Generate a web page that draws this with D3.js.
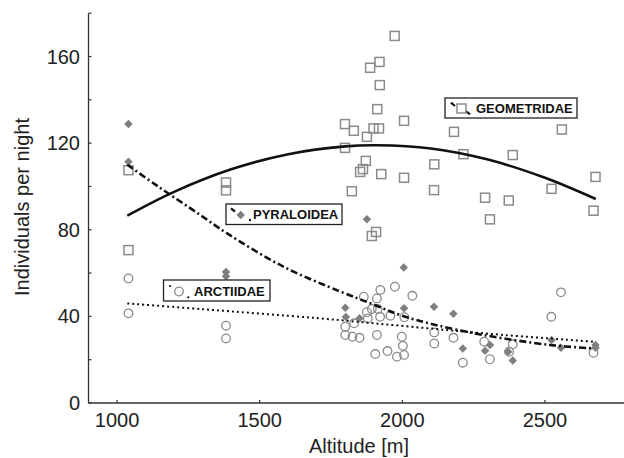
<!DOCTYPE html>
<html>
<head>
<meta charset="utf-8">
<script src="https://cdn.jsdelivr.net/npm/d3@7"></script>
<style>
  body { margin: 0; background: #fff; }
  svg text { font-family: "Liberation Sans", Arial, Helvetica, sans-serif; }
</style>
</head>
<body>
<div id="chart-area"></div>
<script>
// points: altitude [m] and individuals per night
let geoAlt = [1040,1040,1382,1382,1973,1920,1887,1921,1912,1799,2006,1830,1899,1918,1876,1799,1872,1862,1852,1926,2006,1823,2112,2111,1908,1893,2181,2559,2214,2387,2677,2523,2290,2373,2670,2307];
let geoVal = [107.5,70.6,101.8,98.2,169.5,157.5,154.8,146.8,135.7,128.8,130.3,125.7,126.8,126.8,122.9,117.8,111.8,108,106.7,105.7,104,97.8,110.2,98.3,79,77.1,125.2,126.3,114.9,114.5,104.4,98.9,94.8,93.5,88.8,84.8];

let pyrAlt = [1040,1040,1382,1382,1876,2005,1800,1802,1850,2006,2111,2179,2212,2290,2307,2371,2387,2523,2556,2677,2677];
let pyrVal = [128.8,111.4,60.5,58.5,84.8,62.6,44,39.7,39.1,43.7,44.5,41.2,25.2,24.1,26.8,23.7,19.6,29.1,25.5,26.8,25.5];

let arcAlt = [1040,1040,1382,1382,1923,1974,1865,1911,2035,1893,1914,1876,1922,1958,2007,1831,1879,1800,1800,1825,1850,1911,1998,2002,2112,2112,1905,1948,1981,2006,2179,2212,2287,2307,2387,2374,2556,2522,2670];
let arcVal = [57.5,41.4,35.7,29.8,52.2,53.7,49.1,48.3,49.5,43.4,43.4,41.9,39.8,40.3,39.6,36.8,39.1,35.2,31.4,30.6,30.1,31.4,30.6,26.4,32.6,27.5,22.6,24,21.4,22.2,30.1,18.6,28.3,20.2,27.1,23.7,51.1,39.8,23.2];

// fitted curves
let geoFitAlt = [1036,1200,1400,1600,1800,1912,2100,2300,2500,2678];
let geoFitVal = [86.5,97.5,107.9,114.9,118.5,119,117.5,112.4,104,94.2];
let pyrFitAlt = [1036,1146,1292,1386,1584,1782,1899,1992,2109,2284,2517,2669];
let pyrFitVal = [110,99.8,86.8,78.3,62.9,51.5,45.5,40.6,36.3,31.4,26.8,25.2];
let arcFitAlt = [1036,1300,1700,2000,2300,2669];
let arcFitVal = [46,43.3,39.2,35.6,32,28.3];

let xTicks = [1000,1500,2000,2500];
let yTicks = [0,20,40,60,80,100,120,140,160,180];
let yLabels = [0,40,80,120,160];

let svg = d3.select("#chart-area").append("svg")
	.attr("width", 624)
	.attr("height", 458);

let x = d3.scaleLinear()
	.domain([900, 2800])
	.range([88.5, 630.6]);

let y = d3.scaleLinear()
	.domain([0, 180])
	.range([403, 13.2]);

let grey = "#8a8a8a";

// axes
svg.append("line")
	.attr("x1", x(900)).attr("x2", 624)
	.attr("y1", y(0)).attr("y2", y(0))
	.attr("stroke", "#333").attr("stroke-width", 1.3);
svg.append("line")
	.attr("x1", x(900)).attr("x2", x(900))
	.attr("y1", y(0)).attr("y2", y(180))
	.attr("stroke", "#333").attr("stroke-width", 1.3);

svg.selectAll(".xtick").data(xTicks).enter()
	.append("line")
	.attr("x1", (d) => x(d)).attr("x2", (d) => x(d))
	.attr("y1", y(0)).attr("y2", y(0) - 3)
	.attr("stroke", "#333").attr("stroke-width", 1.2);
svg.selectAll(".xlab").data(xTicks).enter()
	.append("text")
	.attr("x", (d) => x(d))
	.attr("y", 427)
	.attr("text-anchor", "middle")
	.attr("font-size", 20)
	.attr("fill", "#222")
	.text((d) => d);

svg.selectAll(".ytick").data(yTicks).enter()
	.append("line")
	.attr("x1", x(900)).attr("x2", x(900) + 3)
	.attr("y1", (d) => y(d)).attr("y2", (d) => y(d))
	.attr("stroke", "#333").attr("stroke-width", 1.2);
svg.selectAll(".ylab").data(yLabels).enter()
	.append("text")
	.attr("x", 80)
	.attr("y", (d) => y(d) + 7)
	.attr("text-anchor", "end")
	.attr("font-size", 20)
	.attr("fill", "#222")
	.text((d) => d);

svg.append("text")
	.attr("x", 359).attr("y", 453)
	.attr("text-anchor", "middle")
	.attr("font-size", 20)
	.attr("fill", "#222")
	.text("Altitude [m]");
svg.append("text")
	.attr("transform", "translate(28.5,207) rotate(-90)")
	.attr("text-anchor", "middle")
	.attr("font-size", 20)
	.attr("fill", "#222")
	.text("Individuals per night");

// markers
let geo = geoAlt.map((a, i) => ({alt: a, val: geoVal[i]}));
let pyr = pyrAlt.map((a, i) => ({alt: a, val: pyrVal[i]}));
let arc = arcAlt.map((a, i) => ({alt: a, val: arcVal[i]}));

svg.selectAll(".circ").data(arc).enter()
	.append("circle")
	.attr("cx", (d) => x(d.alt))
	.attr("cy", (d) => y(d.val))
	.attr("r", 4.3)
	.attr("fill", "none")
	.attr("stroke", grey)
	.attr("stroke-width", 1.3);

svg.selectAll(".sq").data(geo).enter()
	.append("rect")
	.attr("x", (d) => x(d.alt) - 4.5)
	.attr("y", (d) => y(d.val) - 4.5)
	.attr("width", 9).attr("height", 9)
	.attr("fill", "none")
	.attr("stroke", grey)
	.attr("stroke-width", 1.5);

let diamond = d3.symbol().type(d3.symbolDiamond2).size(46);
svg.selectAll(".dia").data(pyr).enter()
	.append("path")
	.attr("d", diamond)
	.attr("transform", (d) => "translate(" + x(d.alt) + "," + y(d.val) + ")")
	.attr("fill", "#7f7f7f");

// fitted lines
let line = d3.line()
	.x((d) => x(d[0]))
	.y((d) => y(d[1]))
	.curve(d3.curveCatmullRom);

svg.append("path")
	.attr("d", line(geoFitAlt.map((a, i) => [a, geoFitVal[i]])))
	.attr("fill", "none").attr("stroke", "#111").attr("stroke-width", 2.6);
svg.append("path")
	.attr("d", line(pyrFitAlt.map((a, i) => [a, pyrFitVal[i]])))
	.attr("fill", "none").attr("stroke", "#111").attr("stroke-width", 2.6)
	.attr("stroke-dasharray", "7,3,2,3");
svg.append("path")
	.attr("d", line(arcFitAlt.map((a, i) => [a, arcFitVal[i]])))
	.attr("fill", "none").attr("stroke", "#111").attr("stroke-width", 2)
	.attr("stroke-dasharray", "2,3");

// legend boxes
function box(x0, y0, w, h) {
	svg.append("rect")
		.attr("x", x0).attr("y", y0)
		.attr("width", w).attr("height", h)
		.attr("fill", "#fff")
		.attr("stroke", "#222").attr("stroke-width", 1.3);
}
function label(x0, yb, t) {
	svg.append("text")
		.attr("x", x0).attr("y", yb)
		.attr("font-size", 13)
		.attr("font-weight", "bold")
		.attr("fill", "#111")
		.text(t);
}

box(445, 98, 132, 20);
svg.append("line").attr("x1", 451).attr("y1", 102.7).attr("x2", 455).attr("y2", 106)
	.attr("stroke", "#111").attr("stroke-width", 2.2);
svg.append("line").attr("x1", 465.7).attr("y1", 111).attr("x2", 470).attr("y2", 114.3)
	.attr("stroke", "#111").attr("stroke-width", 2.2);
svg.append("rect").attr("x", 457).attr("y", 104).attr("width", 9).attr("height", 9)
	.attr("fill", "none").attr("stroke", grey).attr("stroke-width", 1.5);
label(476, 112.5, "GEOMETRIDAE");

box(226, 204, 116, 20.5);
svg.append("line").attr("x1", 231).attr("y1", 208.3).attr("x2", 235).attr("y2", 211.7)
	.attr("stroke", "#111").attr("stroke-width", 2.2);
svg.append("path").attr("d", diamond)
	.attr("transform", "translate(240.7,215)").attr("fill", "#7f7f7f");
svg.append("circle").attr("cx", 250).attr("cy", 220).attr("r", 1.2).attr("fill", "#111");
label(253, 219, "PYRALOIDEA");

box(163.5, 280, 106.5, 21);
svg.append("circle").attr("cx", 170).attr("cy", 286).attr("r", 1.1).attr("fill", "#111");
svg.append("circle").attr("cx", 179).attr("cy", 291.5).attr("r", 4.3)
	.attr("fill", "none").attr("stroke", grey).attr("stroke-width", 1.3);
svg.append("circle").attr("cx", 188.3).attr("cy", 297.3).attr("r", 1.1).attr("fill", "#111");
label(194, 296, "ARCTIIDAE");
</script>
</body>
</html>
